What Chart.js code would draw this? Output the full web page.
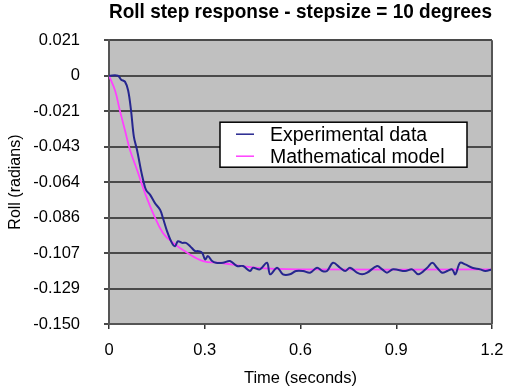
<!DOCTYPE html>
<html>
<head>
<meta charset="utf-8">
<script src="https://cdn.jsdelivr.net/npm/chart.js@4.4.1/dist/chart.umd.min.js"></script>
<style>
  html, body { margin: 0; padding: 0; background: #fff; }
  #wrap { width: 505px; height: 392px; }
</style>
</head>
<body>
<div id="wrap"><canvas id="roll"></canvas></div>
<script>
// values
const expTime = [0, 0.028, 0.038, 0.050, 0.060, 0.069, 0.078, 0.088, 0.100, 0.107, 0.116, 0.129, 0.144, 0.160, 0.169,
  0.182, 0.197, 0.207, 0.216, 0.229, 0.241, 0.254, 0.270, 0.279, 0.292, 0.301, 0.310, 0.323, 0.335, 0.357,
  0.379, 0.401, 0.420, 0.442, 0.451, 0.473, 0.495, 0.505, 0.527, 0.545, 0.567, 0.586, 0.608, 0.630, 0.652,
  0.668, 0.683, 0.702, 0.724, 0.740, 0.755, 0.777, 0.793, 0.809, 0.840, 0.856, 0.871, 0.890, 0.928, 0.950,
  0.969, 0.997, 1.013, 1.028, 1.044, 1.060, 1.075, 1.085, 1.100, 1.116, 1.138, 1.163, 1.179, 1.200];
const expRoll = [0, 0, -0.0024, -0.0036, -0.009, -0.021, -0.037, -0.045, -0.057, -0.063, -0.069, -0.072, -0.077, -0.081, -0.086,
  -0.094, -0.101, -0.103, -0.100, -0.101, -0.101, -0.103, -0.106, -0.106, -0.107, -0.111, -0.109, -0.112, -0.113, -0.113,
  -0.112, -0.115, -0.115, -0.118, -0.116, -0.117, -0.113, -0.120, -0.116, -0.120, -0.120, -0.118, -0.118, -0.119, -0.116,
  -0.118, -0.118, -0.113, -0.116, -0.118, -0.116, -0.119, -0.120, -0.119, -0.115, -0.117, -0.119, -0.117, -0.118, -0.117,
  -0.120, -0.116, -0.113, -0.116, -0.119, -0.118, -0.117, -0.120, -0.113, -0.114, -0.116, -0.117, -0.118, -0.117];

const modelTime = [0, 0.019, 0.034, 0.050, 0.066, 0.088, 0.113, 0.138, 0.169, 0.201, 0.245, 0.295, 0.348, 0.458, 0.600, 1.200];
const modelRoll = [0, -0.009, -0.021, -0.033, -0.045, -0.057, -0.071, -0.083, -0.095, -0.101, -0.107, -0.112, -0.113, -0.116, -0.117, -0.117];

const xTickLabels = ['0', '0.3', '0.6', '0.9', '1.2'];
const yTickLabels = ['0.021', '0', '-0.021', '-0.043', '-0.064', '-0.086', '-0.107', '-0.129', '-0.150'];
const yStep = 0.15 / 7;

const FONT = '"Liberation Sans", Arial, sans-serif';
const toPoints = (xs, ys) => xs.map((x, i) => ({ x: x, y: ys[i] }));

// grey plot background, frame and the boxed legend inside the plot
const plotDecor = {
  id: 'plotDecor',
  beforeDraw(chart) {
    const { ctx, chartArea: a } = chart;
    ctx.save();
    ctx.fillStyle = '#c0c0c0';
    ctx.fillRect(a.left, a.top, a.right - a.left, a.bottom - a.top);
    ctx.restore();
  },
  afterDraw(chart) {
    const { ctx, chartArea: a } = chart;
    ctx.save();
    ctx.strokeStyle = '#555';
    ctx.lineWidth = 2;
    ctx.beginPath();
    ctx.moveTo(a.right, a.top);
    ctx.lineTo(a.right, a.bottom);
    ctx.stroke();

    // legend
    const bx = a.left + 111, by = a.top + 82, bw = 247, bh = 45;
    ctx.fillStyle = '#fff';
    ctx.fillRect(bx, by, bw, bh);
    ctx.strokeStyle = '#000';
    ctx.lineWidth = 1.5;
    ctx.strokeRect(bx, by, bw, bh);
    ctx.font = '19.5px ' + FONT;
    ctx.textBaseline = 'middle';
    ctx.fillStyle = '#000';
    chart.data.datasets.forEach((ds, i) => {
      const ly = by + 12 + i * 22;
      ctx.strokeStyle = ds.borderColor;
      ctx.lineWidth = 1.5;
      ctx.beginPath();
      ctx.moveTo(bx + 16, ly);
      ctx.lineTo(bx + 34, ly);
      ctx.stroke();
      ctx.fillText(ds.label, bx + 50, ly + 1);
    });
    ctx.restore();
  }
};

new Chart(document.getElementById('roll'), {
  type: 'scatter',
  data: {
    datasets: [
      {
        label: 'Experimental data',
        data: toPoints(expTime, expRoll),
        showLine: true,
        borderColor: '#26268f',
        borderWidth: 2,
        pointRadius: 0,
        tension: 0.35
      },
      {
        label: 'Mathematical model',
        data: toPoints(modelTime, modelRoll),
        showLine: true,
        borderColor: '#ff40ff',
        borderWidth: 1.8,
        pointRadius: 0,
        tension: 0.4
      }
    ]
  },
  options: {
    responsive: true,
    maintainAspectRatio: false,
    animation: false,
    layout: { padding: { left: 0, right: 0, top: 0, bottom: 0 } },
    plugins: {
      legend: { display: false },
      tooltip: { enabled: false },
      title: {
        display: true,
        fullSize: false,
        text: 'Roll step response - stepsize = 10 degrees',
        color: '#000',
        font: { family: FONT, size: 21, weight: 'bold' },
        padding: { top: 0, bottom: 15 }
      }
    },
    scales: {
      x: {
        type: 'linear',
        min: 0,
        max: 1.2,
        afterBuildTicks: (scale) => {
          scale.ticks = xTickLabels.map(t => ({ value: parseFloat(t) }));
        },
        afterFit: (scale) => {
          scale.height = 68;
          scale.paddingRight = 13;
        },
        ticks: {
          color: '#000',
          padding: 12,
          maxRotation: 0,
          font: { family: FONT, size: 16.5 },
          callback: (v, i) => xTickLabels[i]
        },
        grid: { drawOnChartArea: false, drawTicks: true, tickLength: 5, color: '#333', lineWidth: 1.5 },
        border: { display: true, color: '#555', width: 2 },
        title: {
          display: true,
          text: 'Time (seconds)',
          color: '#000',
          font: { family: FONT, size: 16.5 },
          padding: { top: 4, bottom: 4 }
        }
      },
      y: {
        type: 'linear',
        min: -0.15,
        max: yStep,
        afterBuildTicks: (scale) => {
          scale.ticks = yTickLabels.map((t, i) => ({ value: yStep - i * yStep }));
        },
        afterFit: (scale) => { scale.width = 109; },
        ticks: {
          color: '#000',
          padding: 24,
          font: { family: FONT, size: 16.5 },
          callback: (v, i) => yTickLabels[i]
        },
        grid: { color: '#4a4a4a', lineWidth: 2, drawTicks: true, tickLength: 5 },
        border: { display: true, color: '#555', width: 2 },
        title: {
          display: true,
          text: 'Roll (radians)',
          color: '#000',
          font: { family: FONT, size: 16 },
          padding: { top: 6, bottom: 4 }
        }
      }
    }
  },
  plugins: [plotDecor]
});
</script>
</body>
</html>
